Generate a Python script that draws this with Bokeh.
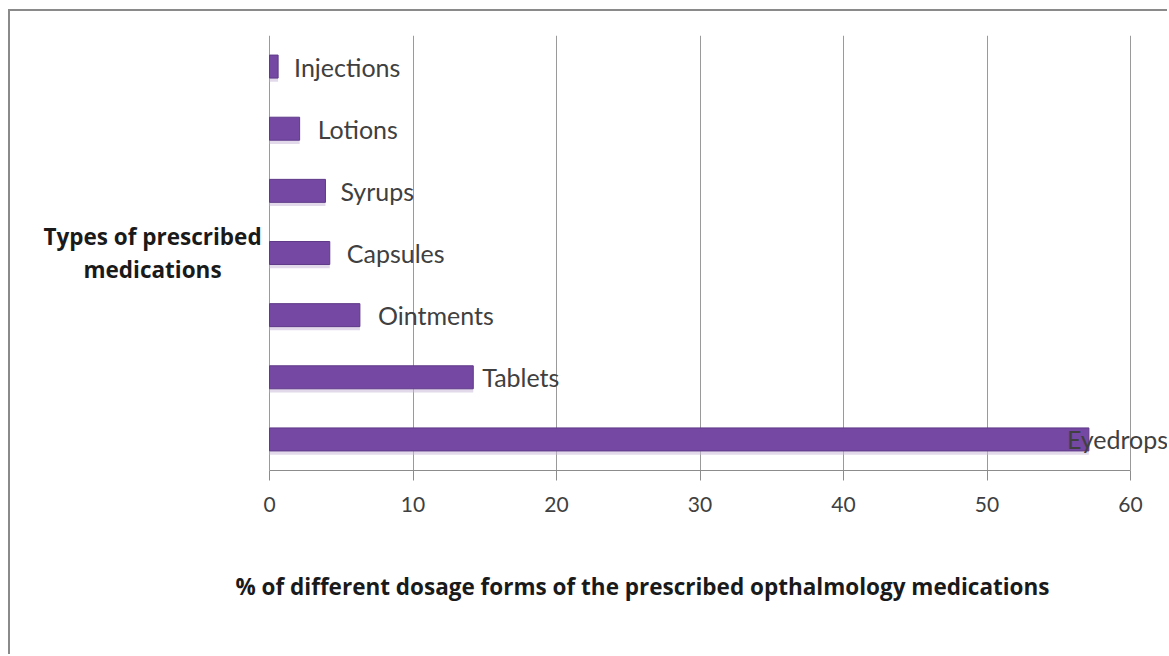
from bokeh.plotting import figure
from bokeh.models import ColumnDataSource, FactorRange, Range1d, Label, FixedTicker, LabelSet, Title
from bokeh.core.properties import value
from bokeh.transform import dodge
from bokeh.embed import file_html
from bokeh.resources import INLINE

# ---- data (bottom to top) ----
categories = ["Eyedrops", "Tablets", "Ointments", "Capsules", "Syrups", "Lotions", "Injections"]
percentages = [57.1, 14.2, 6.3, 4.2, 3.9, 2.1, 0.6]
label_dx = [-22, 9, 18, 17, 15, 18, 16]   # label offsets in px from the bar end
x_ticks = [0, 10, 20, 30, 40, 50, 60]
x_title = "% of  different dosage forms of  the prescribed opthalmology medications"
y_title = "Types of prescribed\nmedications"

src = ColumnDataSource(dict(cat=categories, val=percentages, dx=label_dx))

# layout geometry (pixels on the page)
page_left, page_top = 10, 11
plot_w, plot_h = 1169 - page_left, 656 - page_top
zero_px, sixty_px = 269, 1130
px_per_unit = (sixty_px - zero_px) / 60.0
x_start = -(zero_px - page_left) / px_per_unit
x_end = 60 + (1169 - sixty_px) / px_per_unit

p = figure(width=plot_w, height=plot_h, y_range=FactorRange(*categories), x_range=Range1d(x_start, x_end),
           output_backend="svg", toolbar_location=None,
           min_border_left=0, min_border_right=0, min_border_top=35 - page_top, min_border_bottom=186)
p.margin = (page_top - 2, 0, 0, page_left - 2)
p.styles = {"border-left": "2px solid #8a8a8a", "border-top": "2px solid #8a8a8a"}
p.background_fill_color = "white"
p.border_fill_color = "white"
p.outline_line_color = None

# shadow + bars
p.hbar(y=dodge("cat", -0.06, range=p.y_range), right="val", left=0, height=0.37, source=src,
       fill_color="#cbbbd9", fill_alpha=0.55, line_color=None)
p.hbar(y="cat", right="val", left=0, height=0.37, source=src,
       fill_color="#7548a3", line_color="#5f3a88", line_width=1)

# data labels
labels = LabelSet(x="val", y="cat", text="cat", x_offset="dx", source=src,
                  text_font=value("Lato"), text_font_size=value("25px"), text_color="#404040",
                  text_baseline="middle", text_align="left")
p.add_layout(labels)

# axes
p.xaxis.ticker = FixedTicker(ticks=x_ticks)
p.xaxis.bounds = (0, 60)
p.xaxis.major_label_text_font = "Lato"
p.xaxis.major_label_text_font_size = "21px"
p.xaxis.major_label_text_color = "#404040"
p.xaxis.major_label_standoff = 16
p.xaxis.axis_line_color = "#8c8c8c"
p.xaxis.major_tick_line_color = "#8c8c8c"
p.xaxis.major_tick_out = 10
p.xaxis.major_tick_in = 0
p.xaxis.minor_tick_line_color = None
p.yaxis.visible = False

p.xgrid.grid_line_color = "#9a9a9a"
p.xgrid.grid_line_width = 1
p.ygrid.grid_line_color = None

# x title
p.add_layout(Title(text=x_title, align="left", offset=235 - page_left, standoff=108,
                   text_font="Open Sans", text_font_style="bold", text_font_size="22.5px",
                   text_color="#1a1a1a"), "below")

# y title as horizontal two-line label, centred on the chart's middle category
p.add_layout(Label(x=(152 - zero_px) / px_per_unit, y=3.5, text=y_title, text_font="Open Sans",
                   text_font_style="bold", text_font_size="22.5px", text_color="#1a1a1a",
                   text_align="center", text_baseline="middle", text_line_height=1.05))

open("out.html", "w").write(file_html(p, INLINE))
